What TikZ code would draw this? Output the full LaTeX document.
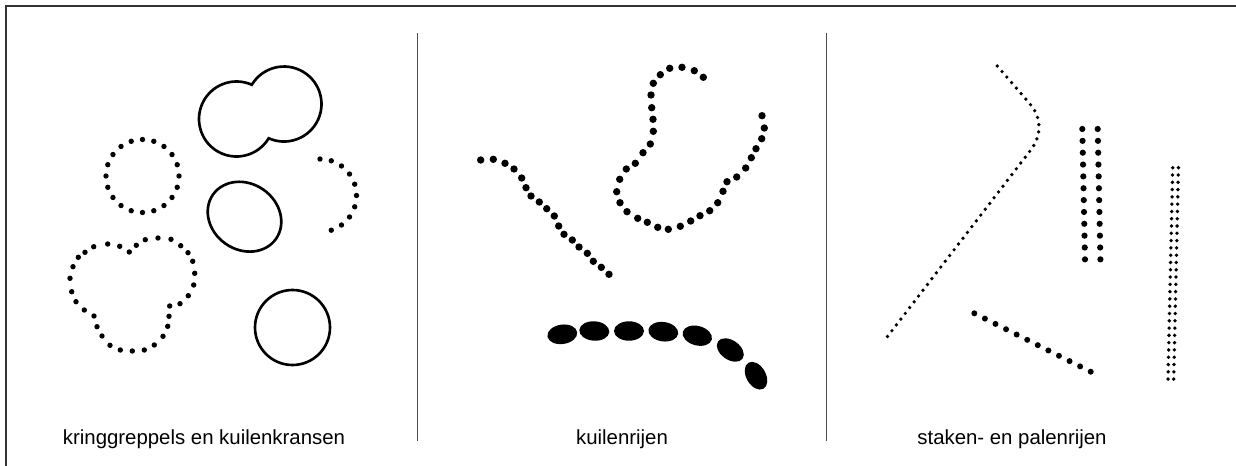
\documentclass[tikz,border=0pt]{standalone}
\usepackage{fontspec}
\setmainfont{Liberation Sans}
\usepackage{tikz}
\usetikzlibrary{calc}

\begin{document}
\begin{tikzpicture}[x=0.02cm,y=-0.02cm,font=\fontsize{11.6}{14}\selectfont]
	\tikzstyle{ring}=[draw=black,line width=1.5pt]
	\tikzstyle{pit}=[fill=black]
	\tikzstyle{divider}=[draw=black!70,line width=0.5pt]
	\tikzstyle{caption}=[anchor=center,text=black,inner sep=0pt]
	
	\useasboundingbox (0,0) rectangle (1236,466);
	
	% frame and dividers
	\coordinate (FB) at (6,466);
	\coordinate (FC) at (6,6);
	\coordinate (FR) at (1236,6);
	\draw[black!80,line width=1.1pt] (FB) -- (FC) -- (FR);
	\coordinate (D1t) at (417,33);
	\coordinate (D1b) at (417,441);
	\coordinate (D2t) at (826,33);
	\coordinate (D2b) at (826,441);
	\draw[divider] (D1t) -- (D1b);
	\draw[divider] (D2t) -- (D2b);
	
	% captions
	\node[caption] (kring) at (204,439) {kringgreppels en kuilenkransen};
	\node[caption] (kuil)  at (622,439) {kuilenrijen};
	\node[caption] (staak) at (1012,439) {staken- en palenrijen};
	
	% kringgreppels
	\draw[ring] (236.5,119) ++(30.9:37.5) arc[start angle=30.9,end angle=294.1,radius=37.5]
		arc[start angle=210.9,end angle=474.1,radius=37.5] -- cycle;
	\draw[ring,rotate around={-35:(244.5,216.7)}] (244.5,216.7) ellipse[x radius=38.5,y radius=33];
	\draw[ring] (292.5,327.5) circle[radius=37.5];
	
	% kuilenkransen
	\foreach \a in {0,18,...,342}
		\fill[pit] (142.5,176) ++(\a:36.5) circle[radius=2.7];
	\foreach \a in {-90,-72,...,72}
		\fill[pit] (320,195.5) ++(\a:36.5) circle[radius=2.7];
	\foreach \x/\y in {107.7/244,119.7/246.3,129.3/252,136.3/245.3,145.3/239.7,158/238,
		171/239.3,180.7/245.7,188/252.7,192.7/261.3,194.7/273.3,193.7/285,188.3/295.7,
		180/303.7,169.7/306,169/316.3,167.7/326.3,163/336.3,154.3/345,144.3/350,132.3/351,
		120.3/350,110/345.3,102/336,97/326.7,94/316,84.3/310,76/301.7,71.7/291.7,70/278.3,
		73/266.7,78.3/257.3,85/252.3,93.7/246.7}
		\fill[pit] (\x,\y) circle[radius=2.7];
	
	% kuilenrijen
	\foreach \x/\y in {480.7/160,493.3/159.3,505/163.3,514/169,521.7/178,526/187.7,531/196,
		539.3/202,546.7/208.7,554.3/216,558.7/226,564/234.3,572.3/240,579/247,587.3/253.3,
		593.3/261.3,601.3/267.3,609/274.3}
		\fill[pit] (\x,\y) circle[radius=3.7];
	\foreach \x/\y in {703.3/77.3,694.3/70.7,682/67.3,669.7/68.3,660.3/74.7,653.3/83.3,651/95,
		651.7/107.7,653/119.3,653.3/131.3,650.3/144,643/152.7,635.3/163.3,626.3/169,
		619.7/179.3,616.7/191.7,620/202.7,627/211.7,637.7/218.3,647.3/222.3,657.7/227.3,
		668.3/229.3,680.3/226.3,690.7/221,700/215.7,709.7/210.7,717.7/202.7,723/191.3,
		727/181.7,736.7/177,745.7/168,751.3/157.7,756/148.7,761.7/138.7,764.3/128,762/115.7}
		\fill[pit] (\x,\y) circle[radius=3.7];
	\foreach \x/\y/\r in {562.3/334.3/8,594.3/331/-4,629/331/0,663.3/331.7/-8,
		697.3/335.7/-15,730.3/350/-35,756/375.7/-60}
		\fill[pit,rotate around={\r:(\x,\y)}] (\x,\y) ellipse[x radius=15,y radius=9.7];
	
	% staken- en palenrijen
	\draw[line width=2.1pt,line cap=round,dash pattern=on 0pt off 4.15pt]
		(997.3,66) -- (1030,104) .. controls (1042,118) and (1042,136) .. (1030,151) -- (887.3,336.7);
	\foreach \i in {0,...,11} {
		\fill[pit] ({1082.3+0.245*\i},{129+11.85*\i}) circle[radius=3.1];
		\fill[pit] ({1097.7+0.245*\i},{129+11.85*\i}) circle[radius=3.1];
	}
	\foreach \i in {0,...,11}
		\fill[pit] ({974.3+10.58*\i},{313.3+5.31*\i}) circle[radius=3];
	\foreach \i in {0,...,29} {
		\fill[pit] ({1172.7-0.162*\i},{167.7+7.29*\i}) circle[radius=1.9];
		\fill[pit] ({1178.4-0.162*\i},{167.7+7.29*\i}) circle[radius=1.9];
	}
\end{tikzpicture}
\end{document}
